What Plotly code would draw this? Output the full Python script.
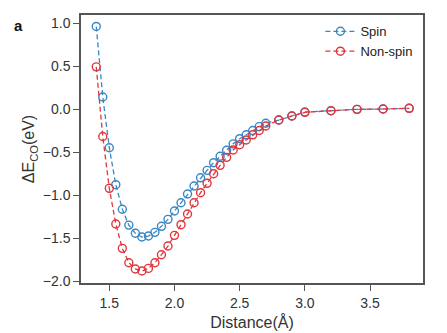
import plotly.graph_objects as go

distance = [1.40, 1.45, 1.50, 1.55, 1.60, 1.65, 1.70, 1.75, 1.80, 1.85, 1.90, 1.95,
            2.00, 2.05, 2.10, 2.15, 2.20, 2.25, 2.30, 2.35, 2.40, 2.45, 2.50, 2.55,
            2.60, 2.65, 2.70, 2.80, 2.90, 3.00, 3.20, 3.40, 3.60, 3.80]
spin = [0.96, 0.14, -0.45, -0.88, -1.165, -1.35, -1.445, -1.488, -1.477, -1.434,
        -1.364, -1.283, -1.186, -1.09, -0.988, -0.895, -0.80, -0.713, -0.624, -0.55,
        -0.48, -0.405, -0.345, -0.30, -0.25, -0.205, -0.165, -0.128, -0.081, -0.035,
        -0.02, -0.004, 0.0, 0.008]
nonspin = [0.49, -0.32, -0.922, -1.337, -1.62, -1.787, -1.86, -1.884, -1.853, -1.787,
           -1.694, -1.593, -1.469, -1.345, -1.221, -1.09, -0.973, -0.864, -0.752, -0.655,
           -0.562, -0.477, -0.415, -0.36, -0.30, -0.25, -0.198, -0.128, -0.081, -0.039,
           -0.02, -0.004, 0.0, 0.008]

blue = "#3a86c4"
red = "#e0363c"
font = "Liberation Sans, Arial, sans-serif"

spin_trace = go.Scatter(
    x=distance, y=spin, name="Spin", mode="lines+markers",
    line=dict(color=blue, width=1.3, dash="5px,3px"),
    marker=dict(symbol="circle-open", size=8, color=blue, line=dict(width=1.4, color=blue)),
)
nonspin_trace = go.Scatter(
    x=distance, y=nonspin, name="Non-spin", mode="lines+markers",
    line=dict(color=red, width=1.3, dash="5px,3px"),
    marker=dict(symbol="circle-open", size=8, color=red, line=dict(width=1.4, color=red)),
)
fig = go.Figure([spin_trace, nonspin_trace])

axis_common = dict(
    showline=True, linecolor="#555555", linewidth=1.5, mirror=True,
    ticks="outside", ticklen=6, tickwidth=1.3, tickcolor="#555555",
    showgrid=False, zeroline=False, automargin=False,
    tickfont=dict(family=font, size=14, color="#333333"),
)

L, R, T, B = 81, 24, 15, 50
W, H = 447, 333
fig.update_layout(
    width=W, height=H,
    margin=dict(l=L, r=R, t=T, b=B),
    paper_bgcolor="white", plot_bgcolor="white",
    showlegend=True,
    legend=dict(x=0.70, y=0.995, xanchor="left", yanchor="top",
                bgcolor="rgba(0,0,0,0)", font=dict(family=font, size=13, color="#222222"),
                tracegroupgap=0, itemwidth=30),
    xaxis=dict(range=[1.283, 3.906], tickvals=[1.5, 2.0, 2.5, 3.0, 3.5],
               ticktext=["1.5", "2.0", "2.5", "3.0", "3.5"],
               title=dict(text="Distance(Å)", font=dict(family=font, size=16, color="#333333"),
                          standoff=7),
               **axis_common),
    yaxis=dict(range=[-2.023, 1.093], tickvals=[-2.0, -1.5, -1.0, -0.5, 0.0, 0.5, 1.0],
               tickformat=".1f",
               title=dict(text="ΔE<sub>CO</sub>(eV)", font=dict(family=font, size=16, color="#333333"),
                          standoff=4),
               **axis_common),
    annotations=[dict(text="<b>a</b>", xref="paper", yref="paper",
                      x=(18 - L) / (W - L - R), y=(H - B - 25) / (H - T - B),
                      xanchor="center", yanchor="middle", showarrow=False,
                      font=dict(family=font, size=15, color="#111111"))],
)

fig.write_html("out.html")
